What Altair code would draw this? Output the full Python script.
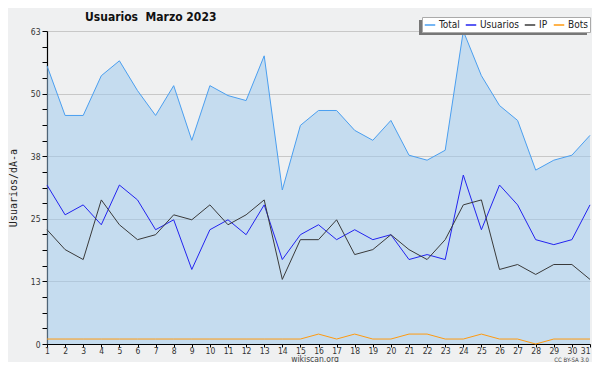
import altair as alt
import pandas as pd

# ---- data ----
dias = list(range(1, 32))
total = [56, 46, 46, 54, 57, 51, 46, 52, 41, 52, 50, 49, 58, 31, 44, 47, 47, 43, 41, 45,
         38, 37, 39, 63, 54, 48, 45, 35, 37, 38, 42]
usuarios = [32, 26, 28, 24, 32, 29, 23, 25, 15, 23, 25, 22, 28, 17, 22, 24, 21, 23, 21, 22,
            17, 18, 17, 34, 23, 32, 28, 21, 20, 21, 28]
ip = [23, 19, 17, 29, 24, 21, 22, 26, 25, 28, 24, 26, 29, 13, 21, 21, 25, 18, 19, 22,
      19, 17, 21, 28, 29, 15, 16, 14, 16, 16, 13]
bots = [1, 1, 1, 1, 1, 1, 1, 1, 1, 1, 1, 1, 1, 1, 1, 2, 1, 2, 1, 1,
        2, 2, 1, 1, 2, 1, 1, 0, 1, 1, 1]

series = ["Total", "Usuarios", "IP", "Bots"]
colores = ["#4a9ff0", "#2323f0", "#3a3a3a", "#ff9a10"]
y_ticks = [round(k * 3.15, 4) for k in range(21)]

titulo = "Usuarios\u00a0 Marzo 2023"
eje_y = "Usuarios/dÃ-a"
pie = "wikiscan.org"
licencia = "CC BY-SA 3.0"

rows = []
for name, vals in zip(series, [total, usuarios, ip, bots]):
    for d, v in zip(dias, vals):
        rows.append({"dia": d, "valor": v, "serie": name})
df = pd.DataFrame(rows)

W, H = 543, 313
FONT = "DejaVu Sans Condensed, Liberation Sans Narrow, DejaVu Sans"

major_test = "abs(datum.value / 12.6 - round(datum.value / 12.6)) < 0.001"

x_enc = alt.X(
    "dia:Q",
    scale=alt.Scale(domain=[1, 31], nice=False, zero=False),
    axis=alt.Axis(values=dias, title=None, grid=False, tickSize=3, labelFontSize=8.5,
                  labelFont=FONT, labelColor="#333", domainColor="black", tickColor="black",
                  labelPadding=-1, labelFlush=False, domainWidth=1.2,
                  labelAlign={"condition": {"test": "datum.value == 31", "value": "right"},
                              "value": "center"}),
)
y_enc = alt.Y(
    "valor:Q",
    scale=alt.Scale(domain=[0, 63], nice=False),
    axis=alt.Axis(values=y_ticks, title=eje_y, titleFont="DejaVu Sans Mono", titleFontSize=10,
                  titleFontWeight="normal", titleColor="#222", titlePadding=12,
                  labelExpr=f"({major_test}) ? format(datum.value, '.0f') : ''",
                  labelFontSize=8.5, labelFont=FONT, labelColor="#333", tickSize=5,
                  tickColor="black", domainColor="black", domainWidth=1.2, labelPadding=2,
                  grid=True, gridColor="#c8c8c8",
                  gridOpacity={"condition": {"test": major_test, "value": 1}, "value": 0}),
)

base = alt.Chart(df)

area = base.transform_filter(alt.datum.serie == "Total").mark_area(
    color="#9cc8ee", opacity=0.5
).encode(x=x_enc, y=y_enc)

lines = base.mark_line(strokeWidth=1).encode(
    x=x_enc, y=y_enc,
    color=alt.Color("serie:N", sort=series,
                    scale=alt.Scale(domain=series, range=colores),
                    legend=alt.Legend(orient="none", legendX=375, legendY=-14,
                                      direction="horizontal", columns=4, title=None,
                                      symbolType="stroke", symbolSize=110,
                                      symbolStrokeWidth=1.5, labelFontSize=10,
                                      labelFont=FONT, labelColor="#222",
                                      fillColor="white", strokeColor="#aaaaaa",
                                      padding=2, columnPadding=2, labelOffset=3)),
    strokeWidth=alt.condition(alt.datum.serie == "Total", alt.value(1.5), alt.value(1)),
)

one = pd.DataFrame({"k": [0]})

shadow = alt.Chart(one).mark_rect(color="#777777").encode(
    x=alt.value(372), x2=alt.value(540), y=alt.value(-11), y2=alt.value(4)
)

title_t = alt.Chart(one).mark_text(
    text=titulo, font=FONT, fontSize=12, fontWeight="bold", align="left",
    baseline="alphabetic", color="#111"
).encode(x=alt.value(38), y=alt.value(-10))

foot_t = alt.Chart(one).mark_text(
    text=pie, font=FONT, fontSize=8.5, align="center", baseline="alphabetic", color="#444"
).encode(x=alt.value(268), y=alt.value(330.5))

lic_t = alt.Chart(one).mark_text(
    text=licencia, font=FONT, fontSize=6, align="right", baseline="alphabetic", color="#444"
).encode(x=alt.value(542), y=alt.value(330.5))

chart = alt.layer(area, lines, shadow, title_t, foot_t, lic_t).properties(
    width=W, height=H,
    background="#eff0f1",
    autosize=alt.AutoSizeParams(type="none"),
    padding={"left": 39, "top": 23, "right": 2, "bottom": 18},
).configure_view(stroke=None)

chart.save("out.html", embed_options={"renderer": "svg", "actions": False})
